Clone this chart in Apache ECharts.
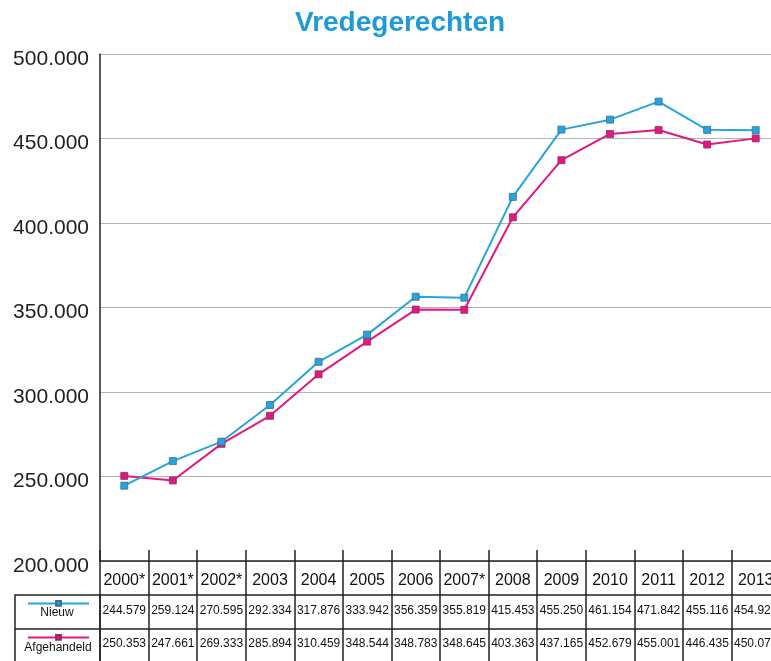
<!DOCTYPE html>
<html><head><meta charset="utf-8">
<script src="https://cdn.jsdelivr.net/npm/echarts@6/dist/echarts.min.js"></script>
<style>html,body{margin:0;padding:0;background:#fff}#c{width:771px;height:661px}</style>
</head><body><div id="c"></div>
<script>
const years = ['2000*','2001*','2002*','2003','2004','2005','2006','2007*','2008','2009','2010','2011','2012','2013'];
// plotted values (as drawn in the chart)
const nieuw = [244579,259124,270595,292334,317876,333942,356359,355819,415453,455250,461154,471842,455116,454925];
const afgehandeld = [250353,247661,269333,285894,310459,329800,348783,348645,403363,437165,452679,455001,446435,450075];
// values as printed in the data table under the chart
const nieuwTabel = [244579,259124,270595,292334,317876,333942,356359,355819,415453,455250,461154,471842,455116,454925];
const afgehandeldTabel = [250353,247661,269333,285894,310459,348544,348783,348645,403363,437165,452679,455001,446435,450075];
const seriesNames = ['Nieuw','Afgehandeld'];
const blue = '#27a4dd', pink = '#e2187f';
const FONT = 'Liberation Sans, Arial, sans-serif';
const fmt = n => Math.floor(n/1000) + '.' + String(n % 1000).padStart(3,'0');
const lineC = '#222';

const chart = echarts.init(document.getElementById('c'), null, {renderer:'canvas'});
const baseX = {
  type:'category', data: years, gridIndex:0, position:'bottom', boundaryGap:true,
  splitLine:{show:false}
};
chart.setOption({
  animation:false,
  textStyle:{fontFamily:FONT},
  title:{text:'Vredegerechten', left:290, top:4,
    textStyle:{color:'#1e9ad6', fontSize:28, fontWeight:'bold', fontFamily:FONT}},
  grid:{left:100, top:54, width:680, height:507, containLabel:false, outerBoundsMode:'none'},
  legend:[
    {data:[seriesNames[0]], left:27, top:600, itemWidth:61, itemHeight:6, formatter:()=>'', selectedMode:false, padding:0},
    {data:[seriesNames[1]], left:27, top:634, itemWidth:61, itemHeight:6, formatter:()=>'', selectedMode:false, padding:0}
  ],
  xAxis:[
    Object.assign({}, baseX, {
      axisLine:{show:true, lineStyle:{color:lineC, width:1.5}},
      axisTick:{show:true, inside:true, length:11, interval:0, lineStyle:{color:lineC, width:1.5}},
      axisLabel:{interval:0, fontSize:16, color:'#111', margin:12, fontFamily:FONT}
    }),
    Object.assign({}, baseX, {
      offset:34,
      axisLine:{show:true, lineStyle:{color:lineC, width:1.5}},
      axisTick:{show:false},
      axisLabel:{interval:0, fontSize:12, color:'#111', margin:10, fontFamily:FONT, formatter:(v,i)=>fmt(nieuwTabel[i])}
    }),
    Object.assign({}, baseX, {
      offset:68,
      axisLine:{show:true, lineStyle:{color:lineC, width:1.5}},
      axisTick:{show:false},
      axisLabel:{interval:0, fontSize:12, color:'#111', margin:9, fontFamily:FONT, formatter:(v,i)=>fmt(afgehandeldTabel[i])}
    }),
    Object.assign({}, baseX, {
      offset:0,
      axisLine:{show:false},
      axisTick:{show:true, inside:false, length:100, interval:0, lineStyle:{color:lineC, width:1.5}},
      axisLabel:{show:false}
    })
  ],
  yAxis:{
    type:'value', min:200000, max:500000, interval:50000,
    axisLine:{show:true, lineStyle:{color:lineC, width:1.5}},
    axisTick:{show:false},
    axisLabel:{formatter:v=>'{a|' + fmt(v) + '}', margin:11,
      rich:{a:{fontSize:21, color:'#222', fontFamily:FONT, padding:[10,0,0,0]}}},
    splitLine:{show:true, lineStyle:{color:'#b4b4b4', width:1}}
  },
  series:[
    {name:seriesNames[1], type:'line', data:afgehandeld, xAxisIndex:0, symbol:'rect', symbolSize:7,
      lineStyle:{color:pink, width:2}, itemStyle:{color:pink, borderColor:'#8a3060', borderWidth:0.8}, z:2},
    {name:seriesNames[0], type:'line', data:nieuw, xAxisIndex:0, symbol:'rect', symbolSize:7,
      lineStyle:{color:blue, width:2}, itemStyle:{color:blue, borderColor:'#3a6e8a', borderWidth:0.8}, z:3}
  ],
  graphic:[
    {type:'rect', shape:{x:15, y:595, width:85, height:80}, style:{fill:'none', stroke:lineC, lineWidth:1.5}, silent:true},
    {type:'line', shape:{x1:15, y1:629, x2:100, y2:629}, style:{stroke:lineC, lineWidth:1.5}, silent:true},
    {type:'text', x:57, y:613, style:{text:seriesNames[0], fontSize:12, fontFamily:FONT, fill:'#111', textAlign:'center', textVerticalAlign:'middle'}, silent:true},
    {type:'text', x:58, y:648, style:{text:seriesNames[1], fontSize:12, fontFamily:FONT, fill:'#111', textAlign:'center', textVerticalAlign:'middle'}, silent:true}
  ]
});
</script></body></html>
